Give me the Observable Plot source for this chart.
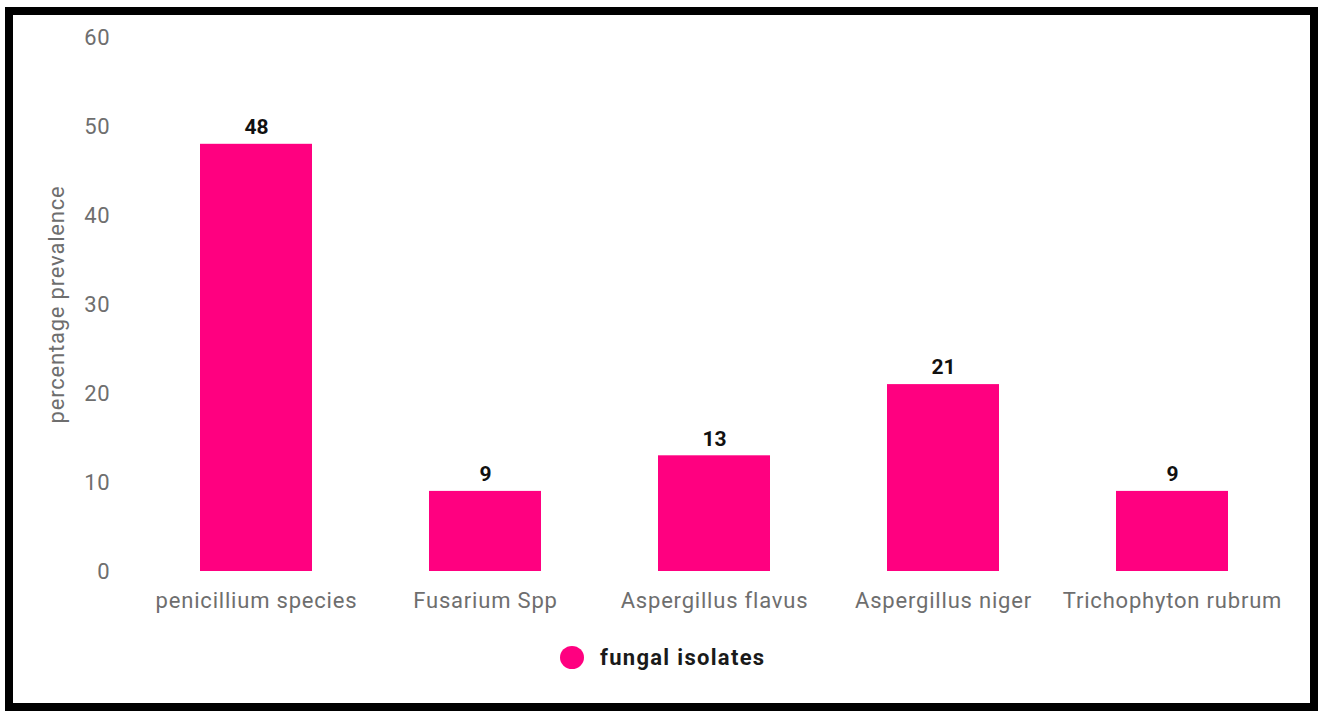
<!DOCTYPE html>
<html>
<head>
<meta charset="utf-8">
<script src="https://cdn.jsdelivr.net/npm/d3@7"></script>
<script src="https://cdn.jsdelivr.net/npm/@observablehq/plot@0.6"></script>
<style>
  html, body { margin: 0; padding: 0; background: #fff; }
  #frame { position: absolute; left: 5px; top: 7px; width: 1313px; height: 704px; border: 8px solid #000; box-sizing: border-box; background: #fff; }
  #chart { position: absolute; left: 0; top: 0; }
  #legend { position: absolute; left: 547px; top: 630px; display: flex; align-items: center; font-family: Roboto, sans-serif; font-weight: bold; font-size: 22px; letter-spacing: 1.3px; color: #1a1a1a; }
  #legend .dot { width: 24px; height: 23px; border-radius: 50%; background: #ff0080; margin-right: 16px; }
  #chart svg g[aria-label="y-axis tick label"] text,
  #chart svg g[aria-label="x-axis tick label"] text { letter-spacing: 0.8px; }
</style>
</head>
<body>
<div id="frame">
  <div id="chart"></div>
  <div id="legend"><span class="dot"></span><span>fungal isolates</span></div>
</div>
<script>
const categories = ["penicillium species", "Fusarium Spp", "Aspergillus flavus", "Aspergillus niger", "Trichophyton rubrum"];
const values = [48, 9, 13, 21, 9];
const yTicks = [0, 10, 20, 30, 40, 50, 60];
const seriesName = "fungal isolates";
const barColor = "#ff0080";

const data = categories.map((c, i) => ({category: c, value: values[i]}));

const chart = Plot.plot({
  width: 1297,
  height: 601,
  marginLeft: 128,
  marginRight: 22,
  marginTop: 22,
  marginBottom: 45,
  style: {fontFamily: "Roboto, sans-serif", fontSize: "22px", color: "#6e6e6e", background: "transparent"},
  x: {domain: categories, paddingInner: 0.51, paddingOuter: 0.255, label: null},
  y: {domain: [0, 60], label: null},
  marks: [
    Plot.axisY({ticks: yTicks, tickSize: 0, tickPadding: 31, label: null, fontSize: 22, fill: "#6e6e6e"}),
    Plot.axisX({tickSize: 0, tickPadding: 21, label: null, fontSize: 22, fill: "#6e6e6e"}),
    Plot.barY(data, {x: "category", y: "value", fill: barColor}),
    Plot.text(data, {x: "category", y: "value", text: d => String(d.value), dy: -17, lineAnchor: "middle", fontWeight: "bold", fontSize: 21, fill: "#111"}),
    Plot.text(["percentage prevalence"], {frameAnchor: "left", dx: -85, rotate: -90, textAnchor: "middle", lineAnchor: "middle", fontSize: 22, fill: "#6e6e6e"})
  ]
});
chart.querySelectorAll("text").forEach(t => {
  if (t.textContent === "percentage prevalence") t.style.letterSpacing = "0.8px";
});
document.getElementById("chart").appendChild(chart);
</script>
</body>
</html>
